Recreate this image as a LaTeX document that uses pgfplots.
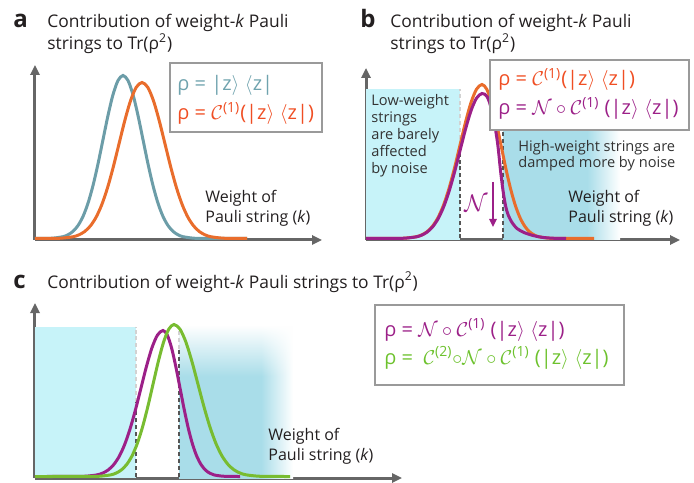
\documentclass[border=0pt]{standalone}
\usepackage{fontspec}
\setmainfont{Open Sans}
\usepackage{pgfplots}
\pgfplotsset{compat=1.18}
\usetikzlibrary{arrows.meta,fadings}
\definecolor{axgray}{HTML}{666666}
\definecolor{boxgray}{HTML}{9A9A9A}
\definecolor{txt}{HTML}{231F20}
\definecolor{txt2}{HTML}{333333}
\definecolor{tealc}{HTML}{6C9DA8}
\definecolor{tealT}{HTML}{6FA3AE}
\definecolor{orc}{HTML}{E96D2C}
\definecolor{redT}{HTML}{F04E23}
\definecolor{purc}{HTML}{9C2088}
\definecolor{grnc}{HTML}{78BC31}
\definecolor{grnT}{HTML}{6DC22D}
\definecolor{cyanL}{HTML}{C7F3F9}
\definecolor{rblue}{HTML}{A9DDE9}
\definecolor{dashD}{HTML}{555555}
\definecolor{dashL}{HTML}{D2D2D2}
\pgfdeclarehorizontalshading{rfade}{100bp}{color(0bp)=(rblue); color(25bp)=(rblue); color(61bp)=(rblue); color(75bp)=(white); color(100bp)=(white)}
\tikzfading[name=whitetop, top color=transparent!0, bottom color=transparent!100]
\pgfplotsset{schem/.style={scale only axis, axis lines=left, xtick=\empty, ytick=\empty,
  xmin=0, ymin=-1.5, x=0.5pt, y=0.5pt, clip=false, anchor=south west,
  axis line style={draw=axgray, line width=1.5pt, -{Triangle[length=5pt,width=4.6pt]}}},
  crv/.style={line width=1.5pt, smooth, no markers},
  dd/.style={draw=dashD, line width=1pt, dash pattern=on 2pt off 1.4pt, no markers},
  dl/.style={draw=dashL, line width=1pt, dash pattern=on 2pt off 1.4pt, no markers}}
\begin{document}
\begin{tikzpicture}
\useasboundingbox (0,0) rectangle (347pt,241pt);
% ---------------- panel a
\begin{axis}[schem, at={(17.5pt,121pt)}, xmax=287, ymax=173.5]
\addplot[crv, draw=tealc] coordinates {(0,0) (8,0.05) (18,0.36) (28,1.81) (33,3.72) (38,7.16) (43,12.97) (48,22.05) (53,35.26) (58,52.93) (63,74.62) (68,98.86) (73,123.03) (78,143.85) (83,157.98) (88,163) (93,157.98) (98,143.85) (103,123.03) (108,98.86) (113,74.62) (118,52.93) (123,35.26) (128,22.05) (133,12.97) (138,7.16) (143,3.72) (148,1.81) (158,0.36) (168,0.05) (212,0)};
\addplot[crv, draw=orc] coordinates {(0,0) (15,0.05) (26.5,0.34) (38,1.73) (43.75,3.56) (49.5,6.85) (55.25,12.42) (61,21.11) (66.75,33.74) (72.5,50.65) (78.25,71.42) (84,94.61) (89.75,117.75) (95.5,137.67) (101.25,151.20) (107,156) (112.75,151.20) (118.5,137.67) (124.25,117.75) (130,94.61) (135.75,71.42) (141.5,50.65) (147.25,33.74) (153,21.11) (158.75,12.42) (164.5,6.85) (170.25,3.56) (176,1.73) (187.5,0.34) (199,0.05) (212,0)};
\end{axis}
% ---------------- panel b
\begin{axis}[schem, at={(183pt,121pt)}, xmax=314, ymax=170.5]
\addplot[fill=cyanL, draw=none] coordinates {(0,-1.5) (94,-1.5) (94,149) (0,149)} -- cycle;
\addplot[draw=none, shade, shading=rfade] coordinates {(137,-1.5) (254,-1.5) (254,149) (137,149)} -- cycle;
\addplot[dd] coordinates {(94,0) (94,93)};
\addplot[dl] coordinates {(94,93) (94,149)};
\addplot[dd] coordinates {(137,0) (137,149)};
\addplot[crv, draw=orc] coordinates {(0,0) (28,0.05) (39,0.34) (50,1.71) (55.5,3.51) (61,6.76) (66.5,12.26) (72,20.84) (77.5,33.31) (83,50.00) (88.5,70.50) (94,93.40) (99.5,116.24) (105,135.91) (110.5,149.26) (116,154) (120.75,149.26) (125.5,135.91) (130.25,116.24) (135,93.40) (139.75,70.50) (144.5,50.00) (149.25,33.31) (154,20.84) (158.75,12.26) (163.5,6.76) (168.25,3.51) (173,1.71) (182.5,0.34) (192,0.05) (228,0)};
\addplot[crv, draw=purc] coordinates {(0,0) (28,0.05) (39,0.32) (50,1.61) (55.5,3.30) (61,6.35) (66.5,11.52) (72,19.59) (77.5,31.31) (83,47.00) (88.5,66.27) (94,87.80) (99.5,109.27) (105,127.76) (110.5,140.30) (116,145) (121,142) (125,131) (129,112) (132,92) (134.5,68) (137,48) (139.5,33) (142,24) (146,16) (151,10) (158,6) (167,3) (176,1.2) (186,0.3) (200,0)};
\end{axis}
% ---------------- panel c
\begin{axis}[schem, at={(17.5pt,2pt)}, xmax=367, ymax=173.5]
\addplot[fill=cyanL, draw=none] coordinates {(0,-1.5) (101,-1.5) (101,150) (0,150)} -- cycle;
\addplot[draw=none, shade, shading=rfade] coordinates {(144,-1.5) (258,-1.5) (258,150) (144,150)} -- cycle;
\addplot[draw=none, fill=white, path fading=whitetop] coordinates {(144,100) (258,100) (258,151) (144,151)} -- cycle;
\addplot[dd] coordinates {(101,0) (101,75)};
\addplot[dl] coordinates {(101,75) (101,150)};
\addplot[dd] coordinates {(144,0) (144,128)};
\addplot[dl] coordinates {(144,128) (144,150)};
\addplot[crv, draw=purc] coordinates {(0,0) (40,0.05) (51,0.32) (62,1.62) (67.5,3.33) (73,6.41) (78.5,11.62) (84,19.75) (89.5,31.58) (95,47.41) (100.5,66.84) (106,88.55) (111.5,110.20) (117,128.85) (122.5,141.50) (128,146) (132.25,141.50) (136.5,128.85) (140.75,110.20) (145,88.55) (149.25,66.84) (153.5,47.41) (157.75,31.58) (162,19.75) (166.25,11.62) (170.5,6.41) (174.75,3.33) (179,1.62) (187.5,0.32) (196,0.05) (205,0)};
\addplot[crv, draw=grnc] coordinates {(0,0) (55,0.05) (65.5,0.33) (76,1.69) (81.25,3.47) (86.5,6.67) (91.75,12.10) (97,20.57) (102.25,32.88) (107.5,49.35) (112.75,69.59) (118,92.19) (123.25,114.73) (128.5,134.14) (133.75,147.32) (139,152) (145,147.32) (151,134.14) (157,114.73) (163,92.19) (169,69.59) (175,49.35) (181,32.88) (187,20.57) (193,12.10) (199,6.67) (205,3.47) (211,1.69) (223,0.33) (235,0.05) (255,0)};
\end{axis}
% ---------------- texts and boxes (pixel grid, origin top left)
\begin{scope}[x=0.5pt, y=-0.5pt, shift={(0pt,241pt)}]
\tikzset{ttl/.style={anchor=base west, inner sep=0pt, text=txt, font=\fontsize{8.7}{10}\selectfont},
  lab/.style={anchor=base west, inner sep=0pt, text=txt, font=\fontsize{12}{12}\selectfont\bfseries},
  ann/.style={anchor=base west, inner sep=0pt, text=txt2, font=\fontsize{7.3}{9}\selectfont},
  wt/.style={anchor=base west, inner sep=0pt, text=txt, font=\fontsize{8}{10}\selectfont},
  lg/.style={anchor=base west, inner sep=0pt, font=\fontsize{10}{11}\selectfont}}
% titles
\node[lab] at (13,28) {a};
\node[ttl] at (47,28) {Contribution of weight-\textit{k} Pauli};
\node[ttl] at (47,50) {strings to Tr(ρ\textsuperscript{2})};
\node[lab] at (360,28) {b};
\node[ttl] at (390,28) {Contribution of weight-\textit{k} Pauli};
\node[ttl] at (390,50) {strings to Tr(ρ\textsuperscript{2})};
\node[lab] at (13,288) {c};
\node[ttl] at (47,288) {Contribution of weight-\textit{k} Pauli strings to Tr(ρ\textsuperscript{2})};
% axis names
\node[wt] at (205,203) {Weight of};
\node[wt] at (205,223) {Pauli string (\textit{k})};
\node[wt] at (568,203) {Weight of};
\node[wt] at (568,223) {Pauli string (\textit{k})};
\node[wt] at (268,440) {Weight of};
\node[wt] at (268,460) {Pauli string (\textit{k})};
% annotations in b
\node[ann] at (371,106) {Low-weight};
\node[ann] at (371,123) {strings};
\node[ann] at (371,140) {are barely};
\node[ann] at (371,157) {affected};
\node[ann] at (371,174) {by noise};
\node[ann] at (518,152) {High-weight strings are};
\node[ann] at (518,168) {damped more by noise};
\draw[purc, line width=1pt, -{Triangle[length=4pt,width=3.6pt]}] (493,182) -- (493,227);
\node[text=purc, inner sep=0pt, font=\fontsize{12}{12}\selectfont] at (476,203) {$\mathcal{N}$};
% legend boxes
\draw[boxgray, line width=0.75pt, fill=white] (170,63) rectangle (322,132);
\node[lg, text=tealT] at (177,91) {ρ = |z$\rangle$\;$\langle$z|};
\node[lg, text=redT] at (177,120) {ρ = $\mathcal{C}$\textsuperscript{(1)}(|z$\rangle$\;$\langle$z|)};
\draw[boxgray, line width=0.75pt, fill=white] (490,60) rectangle (689,130);
\node[lg, text=redT] at (498,86) {ρ = $\mathcal{C}$\textsuperscript{(1)}(|z$\rangle$\;$\langle$z|)};
\node[lg, text=purc] at (498,115) {ρ = $\mathcal{N}\circ\mathcal{C}$\textsuperscript{(1)} (|z$\rangle$\;$\langle$z|)};
\draw[boxgray, line width=0.75pt, fill=white] (375,305) rectangle (624,385);
\node[lg, text=purc] at (384,336) {ρ = $\mathcal{N}\circ\mathcal{C}$\textsuperscript{(1)} (|z$\rangle$\;$\langle$z|)};
\node[lg, text=grnT] at (384,364) {ρ = \ $\mathcal{C}$\textsuperscript{(2)}$\circ\mathcal{N}\circ\mathcal{C}$\textsuperscript{(1)} (|z$\rangle$\;$\langle$z|)};
\end{scope}
\end{tikzpicture}
\end{document}
